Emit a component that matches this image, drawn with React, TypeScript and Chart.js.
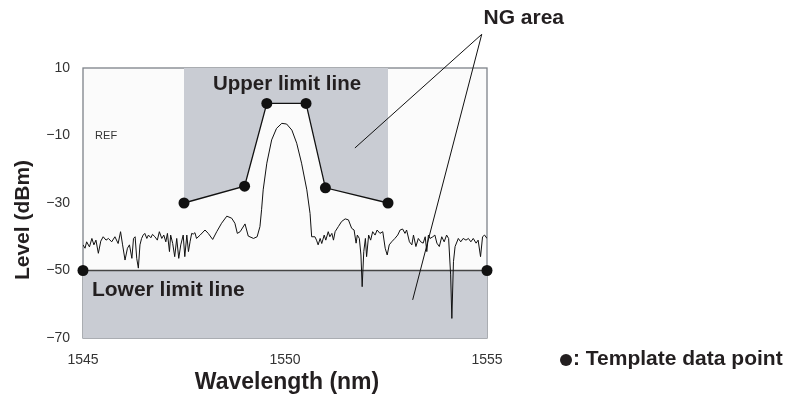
import React, { useEffect, useRef } from "react";
import { Chart, registerables } from "chart.js";

Chart.register(...registerables);

// ---- data ----
const wavelengths = [
  1545.0, 1545.05, 1545.09, 1545.16, 1545.22, 1545.27, 1545.32, 1545.38, 1545.44, 1545.5,
  1545.57, 1545.63, 1545.71, 1545.79, 1545.87, 1545.93, 1545.98, 1546.04, 1546.1, 1546.15,
  1546.21, 1546.25, 1546.29, 1546.33, 1546.37, 1546.41, 1546.45, 1546.49, 1546.53, 1546.58,
  1546.62, 1546.68, 1546.72, 1546.78, 1546.84, 1546.89, 1546.95, 1547.0, 1547.05, 1547.09,
  1547.14, 1547.17, 1547.22, 1547.27, 1547.32, 1547.37, 1547.42, 1547.48, 1547.52, 1547.57,
  1547.61, 1547.65, 1547.69, 1547.73, 1547.77, 1547.81, 1547.9, 1548.02, 1548.1, 1548.21,
  1548.31, 1548.43, 1548.56, 1548.68, 1548.76, 1548.82, 1548.89, 1549.01, 1549.09, 1549.22,
  1549.31, 1549.38, 1549.42, 1549.46, 1549.55, 1549.67, 1549.79, 1549.92, 1550.04, 1550.17,
  1550.29, 1550.41, 1550.54, 1550.62, 1550.66, 1550.74, 1550.78, 1550.82, 1550.87, 1550.91,
  1550.97, 1551.01, 1551.07, 1551.11, 1551.16, 1551.2, 1551.24, 1551.32, 1551.4, 1551.49,
  1551.57, 1551.65, 1551.71, 1551.76, 1551.79, 1551.84, 1551.88, 1551.91, 1551.95, 1551.99,
  1552.02, 1552.07, 1552.12, 1552.17, 1552.23, 1552.28, 1552.35, 1552.42, 1552.48, 1552.53,
  1552.58, 1552.64, 1552.72, 1552.79, 1552.85, 1552.91, 1552.97, 1553.01, 1553.08, 1553.14,
  1553.18, 1553.24, 1553.3, 1553.36, 1553.42, 1553.47, 1553.51, 1553.55, 1553.59, 1553.66,
  1553.71, 1553.76, 1553.82, 1553.88, 1553.94, 1554.0, 1554.05, 1554.1, 1554.13, 1554.17,
  1554.21, 1554.29, 1554.35, 1554.41, 1554.48, 1554.54, 1554.6, 1554.66, 1554.73, 1554.78,
  1554.84, 1554.89, 1554.94, 1555.0,
];
const levels = [
  -42.4, -43.4, -41.5, -43.0, -40.5, -42.4, -41.0, -44.9, -41.3, -40.0,
  -41.0, -40.5, -41.5, -40.0, -42.0, -38.5, -42.4, -46.9, -43.4, -42.4,
  -46.4, -40.5, -40.0, -46.4, -49.3, -42.4, -40.5, -39.5, -39.0, -40.5,
  -39.5, -40.3, -39.3, -40.0, -41.0, -38.5, -40.5, -39.5, -41.5, -39.0,
  -44.4, -39.5, -42.0, -45.9, -40.5, -46.4, -42.4, -39.5, -45.9, -39.5,
  -44.4, -41.5, -39.0, -39.2, -38.8, -40.5, -39.5, -38.0, -39.0, -40.8,
  -38.5, -36.0, -33.9, -34.5, -36.0, -39.0, -38.5, -36.2, -39.8, -40.5,
  -40.0, -37.0, -32.0, -26.1, -18.2, -11.3, -7.9, -6.4, -6.6, -8.4,
  -12.3, -18.2, -26.1, -33.1, -40.0, -40.0, -41.0, -42.4, -40.5, -42.0,
  -39.5, -41.0, -38.5, -40.0, -39.0, -41.0, -38.5, -37.0, -35.5, -34.7,
  -35.0, -37.5, -38.0, -41.9, -39.5, -40.5, -45.4, -54.8, -44.4, -40.5,
  -45.9, -39.5, -41.0, -38.5, -39.5, -38.0, -39.0, -38.5, -43.4, -45.4,
  -42.4, -41.5, -40.5, -39.5, -38.0, -37.7, -39.0, -38.0, -41.5, -42.4,
  -39.5, -42.9, -40.5, -41.5, -41.9, -40.0, -44.4, -39.5, -40.5, -40.0,
  -39.5, -41.9, -42.9, -40.0, -41.5, -39.5, -40.5, -51.3, -64.2, -47.4,
  -42.9, -40.5, -41.5, -40.5, -41.0, -40.5, -41.5, -40.5, -41.9, -41.0,
  -45.9, -40.0, -39.5, -40.5,
];
const upperLimitX = [1547.5, 1549.0, 1549.55, 1550.52, 1551.0, 1552.55];
const upperLimitY = [-30, -25, -0.5, -0.5, -25.5, -30];
const lowerLimitX = [1545, 1555];
const lowerLimitY = [-50, -50];
const xTickValues = [1545, 1550, 1555];
const yTickValues = [-70, -50, -30, -10, 10];

// annotation anchors (data coordinates)
const ngApex = [1554.87, 19.98];
const ngTargets = [
  [1551.73, -13.7],
  [1553.16, -58.7],
];

const SHADE = "#c9ccd3";
const FONT = "'Liberation Sans', Arial, sans-serif";

const decorPlugin = {
  id: "decor",
  beforeDraw(chart: any) {
    const { ctx, chartArea: a } = chart;
    ctx.save();
    ctx.fillStyle = "#fbfbfb";
    ctx.fillRect(a.left, a.top, a.right - a.left, a.bottom - a.top);
    ctx.restore();
  },
  beforeDatasetsDraw(chart: any) {
    const { ctx, chartArea: a } = chart;
    const xs = chart.scales.x;
    ctx.save();
    ctx.strokeStyle = "#7d8289";
    ctx.lineWidth = 1.3;
    ctx.strokeRect(a.left, a.top, a.right - a.left, a.bottom - a.top);
    // small inward ticks on the bottom axis
    xTickValues.slice(1, -1).forEach((v) => {
      const px = Math.round(xs.getPixelForValue(v)) + 0.5;
      ctx.beginPath();
      ctx.moveTo(px, a.bottom);
      ctx.lineTo(px, a.bottom - 5);
      ctx.stroke();
    });
    ctx.restore();
  },
  afterDraw(chart: any) {
    const { ctx, chartArea: a } = chart;
    const xs = chart.scales.x;
    const ys = chart.scales.y;
    const X = (v: number) => xs.getPixelForValue(v);
    const Y = (v: number) => ys.getPixelForValue(v);
    ctx.save();
    ctx.fillStyle = "#231f20";
    ctx.textBaseline = "middle";

    // REF
    ctx.font = `11px ${FONT}`;
    ctx.fillStyle = "#333";
    ctx.textAlign = "left";
    ctx.fillText("REF", X(1545.3), Y(-10));

    ctx.fillStyle = "#231f20";
    ctx.font = `bold 20.5px ${FONT}`;
    ctx.textAlign = "center";
    ctx.fillText("Upper limit line", X(1550.05), Y(5.3));
    ctx.textAlign = "left";
    ctx.font = `bold 21px ${FONT}`;
    ctx.fillText("Lower limit line", X(1545.22), Y(-55.9));

    // NG area pointer lines
    ctx.strokeStyle = "#111";
    ctx.lineWidth = 1;
    ngTargets.forEach(([tx, ty]) => {
      ctx.beginPath();
      ctx.moveTo(X(ngApex[0]), Y(ngApex[1]));
      ctx.lineTo(X(tx), Y(ty));
      ctx.stroke();
    });
    ctx.font = `bold 21px ${FONT}`;
    ctx.textAlign = "center";
    ctx.fillText("NG area", X(ngApex[0]) + 42, 18);

    // axis titles
    ctx.font = `bold 23px ${FONT}`;
    ctx.fillText("Wavelength (nm)", (a.left + a.right) / 2 + 2, 383);
    ctx.save();
    ctx.translate(23, (a.top + a.bottom) / 2 + 17);
    ctx.rotate(-Math.PI / 2);
    ctx.font = `bold 21px ${FONT}`;
    ctx.fillText("Level (dBm)", 0, 0);
    ctx.restore();

    // legend note
    ctx.textAlign = "left";
    ctx.font = `bold 21px ${FONT}`;
    ctx.beginPath();
    ctx.arc(566, 360, 6, 0, Math.PI * 2);
    ctx.fill();
    ctx.fillText(": Template data point", 573, 359);
    ctx.restore();
  },
};

export default function App() {
  const ref = useRef<HTMLCanvasElement>(null);
  useEffect(() => {
    document.body.style.margin = "0";
    const canvas = ref.current!;
    const chart = new Chart(canvas, {
      type: "line",
      data: {
        datasets: [
          {
            label: "Spectrum",
            data: wavelengths.map((x, i) => ({ x, y: levels[i] })),
            borderColor: "#111",
            borderWidth: 1,
            pointRadius: 0,
            fill: false,
            tension: 0,
            order: 0,
          },
          {
            label: "Upper limit",
            data: upperLimitX.map((x, i) => ({ x, y: upperLimitY[i] })),
            borderColor: "#111",
            borderWidth: 1.3,
            backgroundColor: SHADE,
            pointRadius: 5.5,
            pointBackgroundColor: "#111",
            pointBorderWidth: 0,
            fill: "end",
            clip: false as any,
            order: 1,
          },
          {
            label: "Lower limit",
            data: lowerLimitX.map((x, i) => ({ x, y: lowerLimitY[i] })),
            borderColor: "#444",
            borderWidth: 1.5,
            backgroundColor: SHADE,
            pointRadius: 5.5,
            pointBackgroundColor: "#111",
            pointBorderWidth: 0,
            fill: "start",
            clip: false as any,
            order: 2,
          },
        ],
      },
      options: {
        responsive: false,
        animation: false,
        layout: { padding: { left: 0, top: 68, right: 305, bottom: 20 } },
        plugins: { legend: { display: false }, tooltip: { enabled: false } },
        scales: {
          x: {
            type: "linear",
            min: 1545,
            max: 1555,
            afterBuildTicks: (s: any) => {
              s.ticks = xTickValues.map((value) => ({ value }));
            },
            afterFit: (s: any) => {
              s.height = 40;
            },
            grid: { display: false, drawTicks: false },
            border: { display: false },
            ticks: {
              padding: 14,
              color: "#333",
              font: { family: FONT, size: 14 },
              callback: (v: any) => String(v),
            },
          },
          y: {
            type: "linear",
            min: -70,
            max: 10,
            afterBuildTicks: (s: any) => {
              s.ticks = yTickValues.map((value) => ({ value }));
            },
            afterFit: (s: any) => {
              s.width = 83;
            },
            grid: { display: false, drawTicks: false },
            border: { display: false },
            ticks: {
              padding: 13,
              color: "#333",
              font: { family: FONT, size: 14 },
              callback: (v: any) => String(v).replace("-", "\u2212"),
            },
          },
        },
      },
      plugins: [decorPlugin],
    });
    return () => chart.destroy();
  }, []);
  return (
    <div style={{ width: 792, height: 398, background: "#fff" }}>
      <canvas ref={ref} width={792} height={398} style={{ display: "block" }} />
    </div>
  );
}
